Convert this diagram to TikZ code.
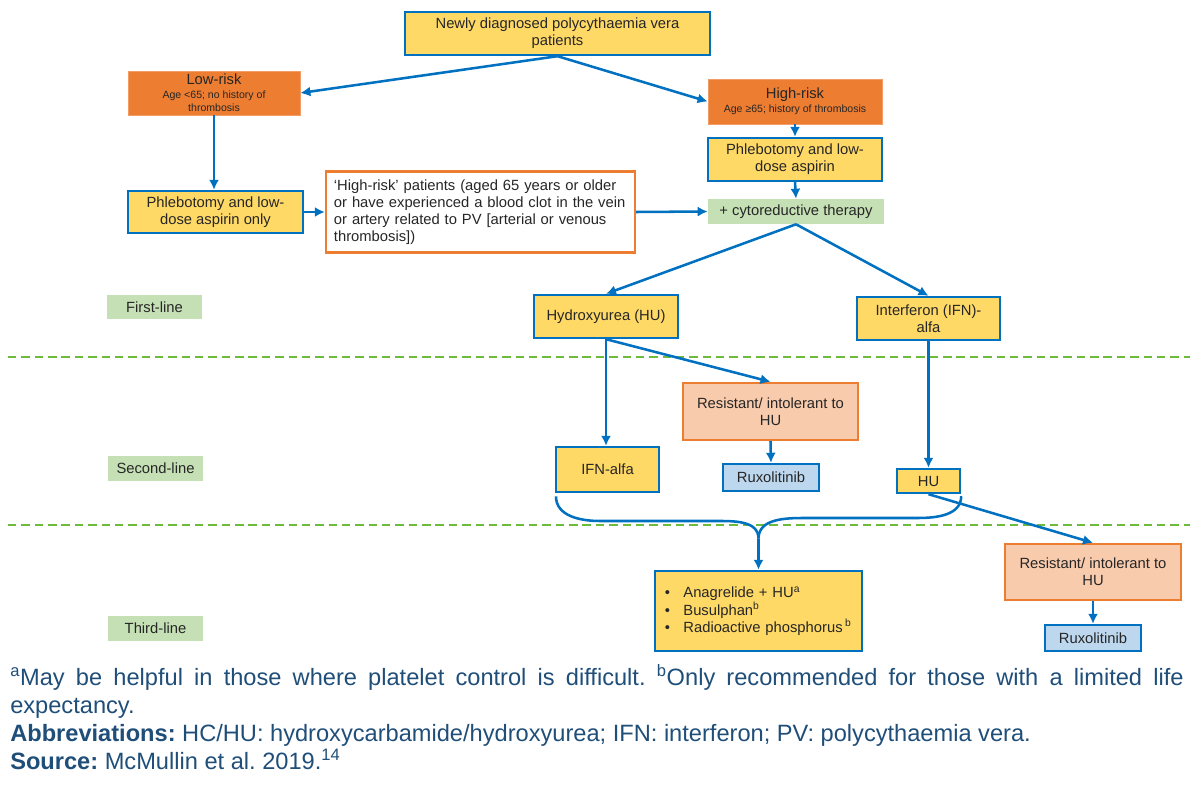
\documentclass[tikz,border=0pt]{standalone}
\usepackage{fontspec}
\setmainfont{Liberation Sans}
\usepackage{xcolor}
\usepackage{tikz}
\usetikzlibrary{arrows.meta}
\definecolor{pvblue}{HTML}{0070C0}
\definecolor{pvyel}{HTML}{FFD966}
\definecolor{pvorg}{HTML}{ED7D31}
\definecolor{pvpeach}{HTML}{F8CBAD}
\definecolor{pvgreen}{HTML}{C5E0B4}
\definecolor{pvdash}{HTML}{6DBB3C}
\definecolor{pvlblue}{HTML}{BDD7EE}
\definecolor{pvtxt}{HTML}{262626}
\definecolor{pvnote}{HTML}{1F4E79}
\tikzstyle{blk}=[rectangle, align=center, inner sep=2pt, text=pvtxt,% plain box, text centred
font=\fontsize{10.5}{12.2}\selectfont]
\tikzstyle{yelblk}=[blk, draw=pvblue, fill=pvyel, line width=1.7pt]
\tikzstyle{riskblk}=[blk, draw=pvorg!75!white, fill=pvorg, line width=0.5pt,
font=\fontsize{7.5}{9}\selectfont]
\tikzstyle{resblk}=[blk, draw=pvorg, fill=pvpeach, line width=1.7pt]
\tikzstyle{ruxblk}=[blk, draw=pvblue, fill=pvlblue, line width=1.7pt]
\tikzstyle{lineblk}=[blk, fill=pvgreen, minimum width=2.375cm, minimum height=0.6cm]
\tikzstyle{dgraph}=[-{Latex[length=2.5mm,width=2.5mm]}, draw=pvblue, line width=1.8pt]
\tikzstyle{brace}=[draw=pvblue, line width=1.8pt]
\tikzstyle{sepline}=[draw=pvdash, line width=0.9pt, dash pattern=on 6pt off 3.5pt]
\newcommand{\riskhead}[1]{{\fontsize{10.5}{12}\selectfont #1}}

\begin{document}
\begin{tikzpicture}[x=0.025cm, y=-0.025cm]
\useasboundingbox (0,0) rectangle (1193,800);

\node[yelblk, minimum width=7.625cm, minimum height=1.075cm] (top) at (557.5,33.5)
  {Newly diagnosed polycythaemia vera\\patients};

\node[riskblk, minimum width=4.3cm, minimum height=1.1cm] (lowrisk) at (214,93)
  {\riskhead{Low-risk}\\[1pt]Age <65; no history of\\thrombosis};
\node[riskblk, minimum width=4.35cm, minimum height=1.125cm] (highrisk) at (795,101.5)
  {\riskhead{High-risk}\\[1pt]Age ≥65; history of thrombosis};

\node[yelblk, minimum width=4.35cm, minimum height=1.075cm] (phlebr) at (795,159.5)
  {Phlebotomy and low-\\dose aspirin};
\node[blk, fill=pvgreen, minimum width=4.4cm, minimum height=0.625cm] (cyto) at (796,211.5)
  {+ cytoreductive therapy};
\node[yelblk, minimum width=4.375cm, minimum height=1.05cm] (phlebl) at (215.5,212)
  {Phlebotomy and low-\\dose aspirin only};
\node[blk, draw=pvorg, fill=white, line width=1.7pt, align=left, inner sep=0.2cm,
  text width=7.325cm, minimum height=2cm] (hrnote) at (480.5,212)
  {‘High-risk’ patients (aged 65 years or older\\or have experienced a blood clot in the vein\\or artery related to PV [arterial or venous\\thrombosis])};

%% treatment lines
\node[lineblk] (first) at (154.5,307) {First-line};
\node[lineblk] (second) at (155.5,468.5) {Second-line};
\node[lineblk] (third) at (155.5,628.5) {Third-line};

\draw[sepline] (8,357) -- (1190,357);
\draw[sepline] (8,525) -- (1190,525);

\node[yelblk, minimum width=3.6cm, minimum height=1.075cm] (hu1) at (606,316.5)
  {Hydroxyurea (HU)};
\node[yelblk, minimum width=3.575cm, minimum height=1.075cm] (ifn1) at (928.5,318.5)
  {Interferon (IFN)-\\alfa};

\node[resblk, minimum width=4.375cm, minimum height=1.425cm] (res1) at (770.5,411.5)
  {Resistant/ intolerant to\\HU};
\node[yelblk, minimum width=2.575cm, minimum height=1.125cm] (ifn2) at (607.5,469.5)
  {IFN-alfa};
\node[ruxblk, minimum width=2.4cm, minimum height=0.675cm] (rux1) at (771,477.5)
  {Ruxolitinib};
\node[yelblk, minimum width=1.575cm, minimum height=0.6cm] (hu2) at (928.5,481)
  {HU};

\node[yelblk, align=left, inner sep=0.25cm, text width=4.675cm, minimum height=2cm] (other) at (758.5,611)
  {•\hspace{0.9em}Anagrelide + HU\textsuperscript{a}\\
   •\hspace{0.9em}Busulphan\textsuperscript{b}\\
   •\hspace{0.9em}Radioactive phosphorus\,\textsuperscript{b}};
\node[resblk, minimum width=4.4cm, minimum height=1.4cm] (res2) at (1093,572)
  {Resistant/ intolerant to\\HU};
\node[ruxblk, minimum width=2.4cm, minimum height=0.65cm] (rux2) at (1093,638)
  {Ruxolitinib};

%% connectors
\draw[dgraph] (top.south) -- (lowrisk.east);
\draw[dgraph] (top.south) -- (highrisk.west);
\draw[dgraph] (lowrisk.south) -- (lowrisk.south |- phlebl.north);
\draw[dgraph] (highrisk.south) -- (phlebr.north);
\draw[dgraph] (phlebr.south) -- (cyto.north);
\draw[dgraph] (phlebl.east) -- (hrnote.west);
\draw[dgraph] (hrnote.east) -- (cyto.west);
\draw[dgraph] (cyto.south) -- (hu1.north);
\draw[dgraph] (cyto.south) -- (ifn1.north);
\draw[dgraph] (hu1.south) -- (hu1.south |- ifn2.north);
\draw[dgraph] (hu1.south) -- (res1.north);
\draw[dgraph] (res1.south) -- (rux1.north);
\draw[dgraph] (ifn1.south) -- (hu2.north);
\draw[dgraph] (hu2.south) -- (res2.north);
\draw[dgraph] (res2.south) -- (rux2.north);

% brace joining IFN-alfa and HU into the third line
\coordinate (bl) at ([xshift=0.03cm,yshift=-0.08cm]ifn2.south west);
\coordinate (br) at ([yshift=-0.05cm]hu2.south east);
\coordinate (bm) at ([yshift=0.78cm]other.north);
\draw[brace] (bl) to[out=-90,in=180] (600,521) -- (715,521) to[out=0,in=90] (bm);
\draw[brace] (br) to[out=-90,in=0] (918,518) -- (805,518) to[out=180,in=90] (bm);
\draw[dgraph] (bm) -- (other.north);

%% notes under the chart
\node[anchor=north west, inner sep=0pt, text width=29.325cm, align=justify, text=pvnote,
  font=\fontsize{16.8}{19.9}\selectfont] (notes) at (10,664)
  {\frenchspacing
   \textsuperscript{a}May be helpful in those where platelet control is difficult. \textsuperscript{b}Only recommended for those with a limited life \mbox{expectancy.}\\
   \textbf{Abbreviations:} HC/HU: hydroxycarbamide/hydroxyurea; IFN: interferon; PV: polycythaemia vera.\\
   \textbf{Source:} McMullin et al. 2019.\textsuperscript{14}};

\end{tikzpicture}
\end{document}
